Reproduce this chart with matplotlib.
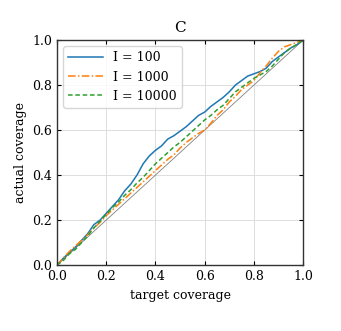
import matplotlib
matplotlib.use("Agg")
import matplotlib.pyplot as plt

target = [0, .025, .05, .075, .1, .125, .15, .175, .2, .225, .25, .275, .3, .325, .35, .375, .4, .425, .45, .475, .5,
          .525, .55, .575, .6, .625, .65, .675, .7, .725, .75, .775, .8, .825, .85, .875, .9, .925, .95, .975, 1.0]
cov_100 = [0, .03, .055, .08, .11, .14, .18, .20, .23, .26, .29, .33, .36, .40, .45, .485, .51, .53, .56, .575, .595,
           .615, .64, .665, .68, .705, .725, .745, .77, .80, .82, .84, .85, .86, .875, .905, .925, .945, .965, .98, 1.0]
cov_1000 = [0, .03, .06, .085, .11, .135, .165, .19, .22, .245, .27, .295, .32, .345, .37, .395, .42, .445, .47, .49, .52,
            .545, .565, .585, .60, .63, .665, .69, .725, .75, .78, .80, .82, .855, .885, .92, .95, .97, .98, .99, 1.0]
cov_10000 = [0, .02, .05, .07, .10, .13, .165, .195, .225, .255, .28, .31, .335, .365, .39, .42, .45, .475, .50, .525, .545,
             .57, .595, .62, .645, .665, .69, .71, .74, .77, .79, .81, .83, .845, .86, .885, .915, .945, .965, .98, 1.0]
labels = ["I = 100", "I = 1000", "I = 10000"]
ticks = [0.0, 0.2, 0.4, 0.6, 0.8, 1.0]

plt.rcParams['font.family'] = ['DejaVu Serif']
fig = plt.figure(figsize=(3.41, 3.31), dpi=100)
ax = fig.add_axes([0.167, 0.199, 0.722, 0.680])

ax.plot([0, 1], [0, 1], color='gray', lw=0.6)
ax.plot(target, cov_100, color='#1f77b4', lw=1.1, ls='-', label=labels[0])
ax.plot(target, cov_1000, color='#ff7f0e', lw=1.1, ls=(0, (5, 1.5, 1, 1.5)), label=labels[1])
ax.plot(target, cov_10000, color='#2ca02c', lw=1.1, ls=(0, (3, 1.8)), label=labels[2])

ax.set_xlim(0, 1)
ax.set_ylim(0, 1)
ax.set_xticks(ticks)
ax.set_yticks(ticks)
ax.set_xticklabels([f"{t:.1f}" for t in ticks])
ax.set_yticklabels([f"{t:.1f}" for t in ticks])
ax.grid(True, color='#dddddd', lw=0.7)
ax.set_axisbelow(True)
ax.tick_params(direction='in', top=True, right=True, labelsize=9, length=3)
for s in ax.spines.values():
    s.set_linewidth(1.0)
    s.set_color('#333333')
ax.set_xlabel("target coverage", fontsize=9)
ax.set_ylabel("actual coverage", fontsize=9)
ax.set_title("C", fontsize=11)
leg = ax.legend(loc='upper left', fontsize=9, frameon=True, fancybox=True, handlelength=2.8)
leg.get_frame().set_edgecolor('#cccccc')

fig.savefig("out.png", dpi=100)
